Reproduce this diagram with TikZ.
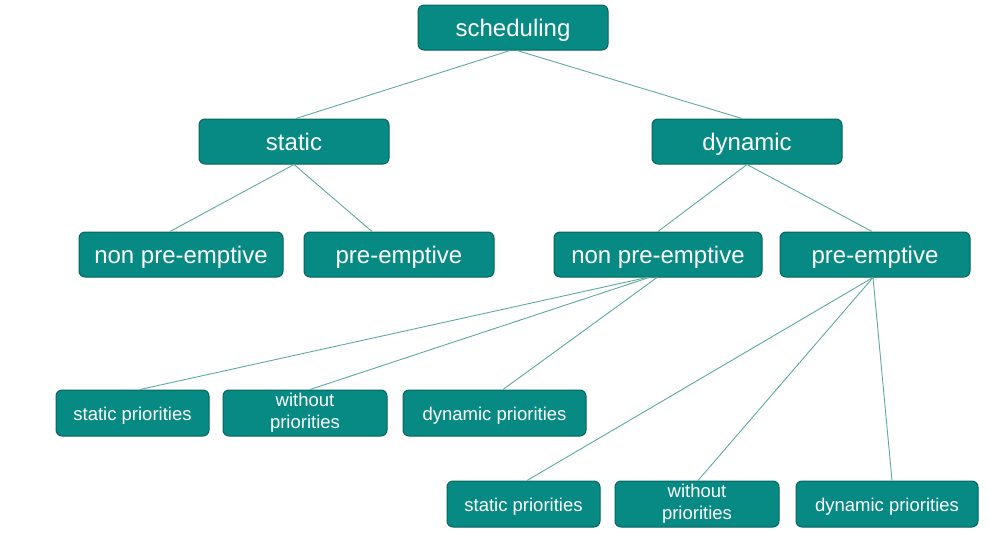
\documentclass[tikz,border=0pt]{standalone}
\usepackage{fontspec}
\setmainfont{Liberation Sans}
\definecolor{boxfill}{HTML}{078A83}
\definecolor{boxedge}{HTML}{06635E}
\definecolor{linkc}{HTML}{5CAAA4}
\tikzset{
  box/.style={draw=boxedge, fill=boxfill, line width=1pt, rounded corners=6pt,
    text=white, inner sep=0pt, align=center, minimum height=45pt},
  big/.style={box, text height=21pt, text depth=3pt, font=\fontsize{24}{28}\selectfont},
  small/.style={box, text height=16pt, text depth=2pt, minimum height=46pt, font=\fontsize{18.5}{22}\selectfont},
  twoline/.style={box, minimum height=46pt, font=\fontsize{18.5}{22.3}\selectfont},
  link/.style={draw=linkc, line width=0.9pt}
}
\begin{document}
\begin{tikzpicture}[x=1pt,y=-1pt]
\useasboundingbox (0,0) rectangle (989,533);
% level 1-3
\node[big, minimum width=190pt] (sched) at (513,27.5) {scheduling};
\node[big, minimum width=190pt] (stat) at (294,141.5) {static};
\node[big, minimum width=190pt] (dyn) at (747,141.5) {dynamic};
\node[big, minimum width=204pt] (snp) at (181,254.5) {non pre-emptive};
\node[big, minimum width=190pt] (sp) at (399,254.5) {pre-emptive};
\node[big, minimum width=208pt] (dnp) at (658,254.5) {non pre-emptive};
\node[big, minimum width=190pt] (dp) at (875,254.5) {pre-emptive};
% level 4
\node[small, minimum width=153pt] (spa) at (132.5,413) {static priorities};
\node[twoline, minimum width=164pt] (wpa) at (305,413) {without\\priorities};
\node[small, minimum width=183pt] (dpa) at (494.5,413) {dynamic priorities};
% level 5
\node[small, minimum width=153pt] (spb) at (523.5,504) {static priorities};
\node[twoline, minimum width=164pt] (wpb) at (697,504) {without\\priorities};
\node[small, minimum width=182pt] (dpb) at (887,504) {dynamic priorities};
% connectors
\draw[link] ([xshift=-3pt]sched.south) -- ([xshift=2pt]stat.north);
\draw[link] ([xshift=4pt]sched.south) -- ([xshift=-5pt]dyn.north);
\draw[link] (stat.south) -- ([xshift=-11pt]snp.north);
\draw[link] (stat.south) -- ([xshift=-27pt]sp.north);
\draw[link] (dyn.south) -- (dnp.north);
\draw[link] (dyn.south) -- ([xshift=-3pt]dp.north);
\draw[link] ([xshift=-11pt]dnp.south) -- ([xshift=7.5pt]spa.north);
\draw[link] ([xshift=-9pt]dnp.south) -- ([xshift=5pt]wpa.north);
\draw[link] ([xshift=-1pt]dnp.south) -- ([xshift=8.5pt]dpa.north);
\draw[link] ([xshift=-2pt]dp.south) -- ([xshift=3.5pt]spb.north);
\draw[link] ([xshift=-2pt]dp.south) -- ([xshift=1pt]wpb.north);
\draw[link] ([xshift=-2pt]dp.south) -- ([xshift=5pt]dpb.north);
\end{tikzpicture}
\end{document}
